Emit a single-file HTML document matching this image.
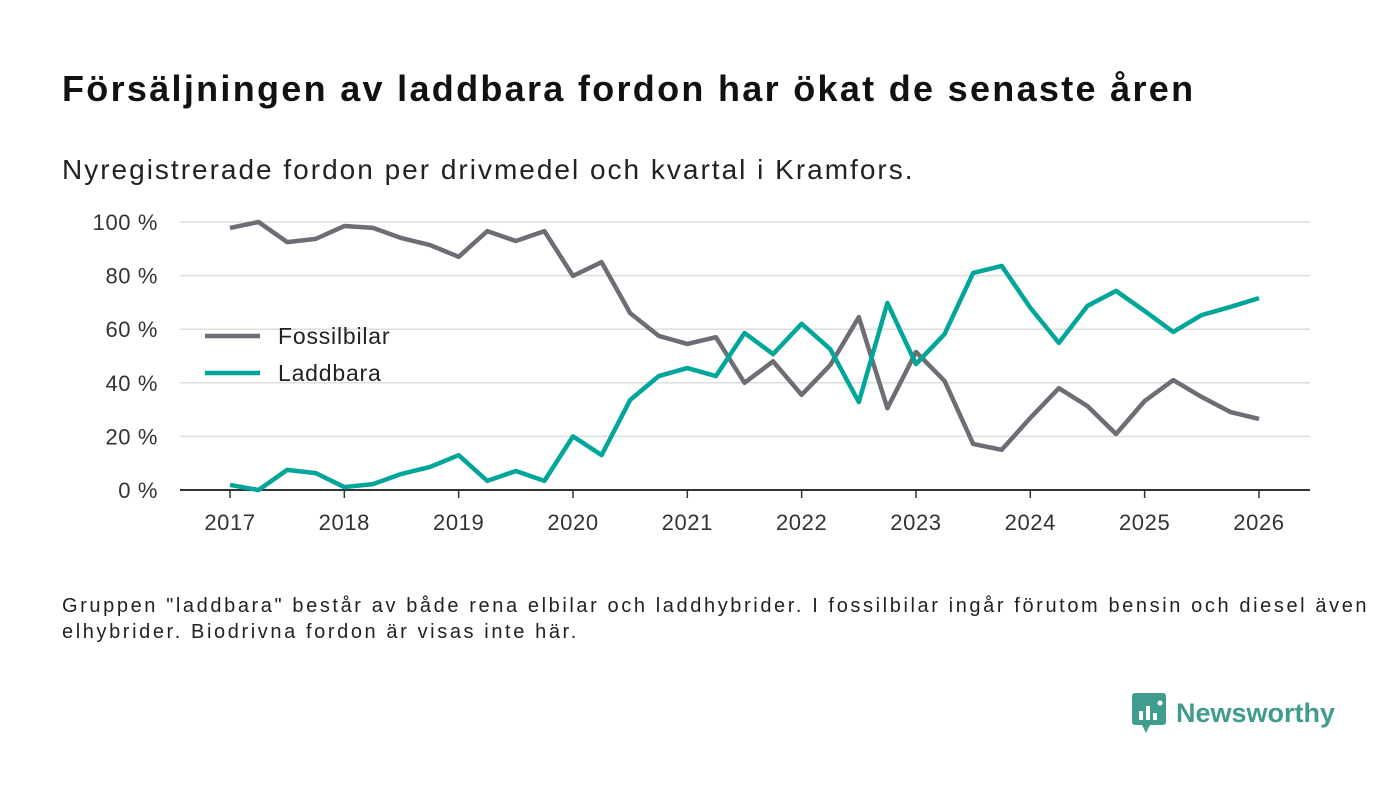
<!DOCTYPE html>
<html><head><meta charset="utf-8"><style>
body{margin:0;background:#fff;font-family:"Liberation Sans",sans-serif;}
#wrap{position:relative;width:1400px;height:793px;overflow:hidden;}
h1{position:absolute;left:62px;top:68px;margin:0;font-size:36px;font-weight:bold;color:#111;letter-spacing:2.3px;white-space:nowrap;}
.sub{position:absolute;left:62px;top:154px;font-size:28px;color:#222;letter-spacing:2px;white-space:nowrap;}
.note{position:absolute;left:62px;top:593px;font-size:20px;color:#222;line-height:26px;width:1325px;letter-spacing:2.6px;}
.logo{position:absolute;left:1132px;top:693px;display:flex;align-items:center;}
.logo span{font-size:27px;font-weight:bold;color:#3f9c8f;margin-left:10px;}
</style></head><body><div id="wrap">
<h1>Försäljningen av laddbara fordon har ökat de senaste åren</h1>
<div class="sub">Nyregistrerade fordon per drivmedel och kvartal i Kramfors.</div>
<svg id="chart" width="1400" height="793" style="position:absolute;left:0;top:0"></svg>
<div class="note">Gruppen "laddbara" består av både rena elbilar och laddhybrider. I fossilbilar ingår förutom bensin och diesel även elhybrider. Biodrivna fordon är visas inte här.</div>
<div class="logo"><svg width="34" height="40" viewBox="0 0 34 40"><rect x="0" y="0" width="34" height="32" rx="3" fill="#3f9c8f"/><path d="M10 32 L14 40 L18 32Z" fill="#3f9c8f"/><rect x="7" y="18" width="4" height="9" fill="#fff"/><rect x="14" y="13" width="4" height="14" fill="#fff"/><rect x="21" y="20" width="4" height="7" fill="#fff"/><circle cx="28" cy="10" r="2.5" fill="#fff"/></svg><span>Newsworthy</span></div>
</div>
<script>
const years=[2017,2018,2019,2020,2021,2022,2023,2024,2025,2026];
const yTicks=[0,20,40,60,80,100];
const fossil=[97.8,100,92.5,93.7,98.5,97.8,94,91.4,87,96.6,92.9,96.6,79.9,85,66,57.5,54.5,57,40,48,35.5,46.6,64.5,30.5,51.5,40.7,17.2,15,26.9,38,31.3,20.9,33.2,41,34.7,29.1,26.5];
const laddbara=[1.9,0,7.5,6.3,1.1,2.2,6,8.6,13,3.4,7.1,3.4,20,13,33.6,42.5,45.5,42.5,58.6,50.7,62,52.6,32.8,69.8,47,58.2,81,83.6,68,54.9,68.7,74.3,66.8,59,65.3,68.3,71.6];
const svg=document.getElementById('chart');const NS='http://www.w3.org/2000/svg';
const X=t=>230+(t-2017)*114.33;const Y=v=>490-v*2.68;
function mk(tag,a){const e=document.createElementNS(NS,tag);for(const k in a)e.setAttribute(k,a[k]);svg.appendChild(e);return e;}
yTicks.forEach(v=>{const g=mk('line',{x1:180,x2:1310,y1:Y(v),y2:Y(v),stroke:v?'#ddd':'#333','stroke-width':v?1.5:2});


const t=mk('text',{x:158,y:Y(v)+8,'text-anchor':'end','font-size':22,fill:'#333','font-family':'Liberation Sans','letter-spacing':0.6});t.textContent=v+' %';

});
years.forEach(yr=>{const l=mk('line',{x1:X(yr),x2:X(yr),y1:490,y2:498,stroke:'#333','stroke-width':1.5});


const t=mk('text',{x:X(yr),y:530,'text-anchor':'middle','font-size':22,fill:'#333','font-family':'Liberation Sans','letter-spacing':0.6});t.textContent=yr;

});
function line(d,c,n){const p=mk('polyline',{points:d.map((v,i)=>X(2017+i/4)+','+Y(v)).join(' '),fill:'none',stroke:c,'stroke-width':4.5,'stroke-linejoin':'round'});

}
line(fossil,'#6e6c74','fossilbilar-line');line(laddbara,'#00a69a','laddbara-line');
[['Fossilbilar','#6e6c74',336],['Laddbara','#00a69a',373]].forEach(([n,c,y])=>{const l=mk('line',{x1:205,x2:260,y1:y,y2:y,stroke:c,'stroke-width':4.5});


const t=mk('text',{x:278,y:y+8,'font-size':23,fill:'#222','font-family':'Liberation Sans','letter-spacing':0.8});t.textContent=n;

});
</script></body></html>
